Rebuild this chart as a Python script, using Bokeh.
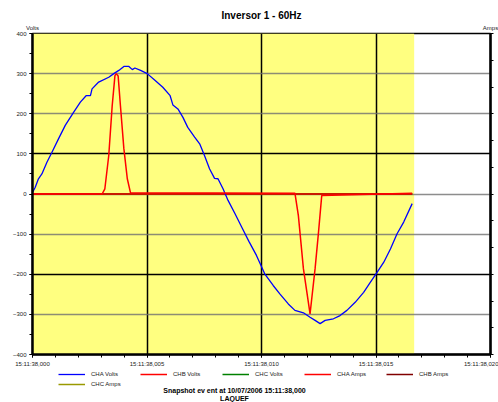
from bokeh.plotting import figure
from bokeh.layouts import column
from bokeh.models import (Range1d, LinearAxis, FixedTicker, BoxAnnotation, Label,
                          Legend, LegendItem, Grid)
from bokeh.embed import file_html
from bokeh.resources import INLINE

# ---------------- data ----------------
title_text = "Inversor 1 - 60Hz"
footer_text = "Snapshot ev ent at 10/07/2006 15:11:38,000"
footer_text2 = "LAQUEF"
unit_left = "Volts"
unit_right = "Amps"

time_ticks = [0, 5, 10, 15, 20]
time_labels = ["15:11:38,000", "15:11:38,005", "15:11:38,010", "15:11:38,015", "15:11:38,020"]
volt_ticks = [-400, -300, -200, -100, 0, 100, 200, 300, 400]
amp_ticks = [-60, -50, -40, -30, -20, -10, 0, 10, 20, 30, 40, 50, 60]
cycle_ms = 1000.0 / 60.0

t_volts = [0, 0.12, 0.26, 0.41, 0.63, 0.85, 1.14, 1.43, 1.80, 2.09, 2.34, 2.53, 2.60, 2.89,
           3.33, 3.55, 3.77, 3.99, 4.21, 4.36, 4.47, 4.72, 5.01, 5.32, 5.69, 6.01, 6.13,
           6.35, 6.57, 6.78, 7.08, 7.30, 7.51, 7.73, 7.95, 8.10, 8.32, 8.54, 8.85, 9.15,
           9.45, 9.78, 10.14, 10.51, 10.80, 11.17, 11.46, 11.83, 12.12, 12.34, 12.56,
           12.78, 13.14, 13.43, 13.73, 14.09, 14.46, 14.75, 15.04, 15.34, 15.63, 15.92,
           16.21, 16.58]
cha_volts = [4, 17, 38, 50, 79, 104, 138, 171, 204, 229, 245, 245, 262, 279,
             291, 300, 308, 318, 318, 310, 314, 308, 300, 285, 266, 245, 222,
             212, 191, 166, 142, 125, 96, 63, 39, 38, 13, -16, -50, -84,
             -118, -153, -199, -228, -249, -274, -290, -296, -307, -315, -323,
             -315, -311, -303, -290, -270, -245, -220, -196, -170, -137, -99,
             -70, -24]

t_amps = [0, 3.04, 3.16, 3.33, 3.48, 3.60, 3.66, 3.74, 3.84, 3.99, 4.14, 4.28,
          11.46, 11.61, 11.83, 12.12, 12.34, 12.49, 12.63, 16.58]
cha_amps = [0, 0, 13, 96, 220, 295, 300, 294, 220, 113, 38, 3,
            2, -54, -186, -299, -186, -95, -4, 2]

t_flat = [0, 16.58]
chb_volts = [0, 0]
chc_volts = [0, 0]
chb_amps = [0, 0]
chc_amps = [0, 0]

series = [  # (label, x, y, colour, width)
    ("CHC Amps", t_flat, chc_amps, "#999900", 1.5),
    ("CHB Amps", t_flat, chb_amps, "#800000", 1.5),
    ("CHC Volts", t_flat, chc_volts, "#008000", 1.5),
    ("CHB Volts", t_flat, chb_volts, "#FF0000", 1.5),
    ("CHA Volts", t_volts, cha_volts, "#0000FF", 1.3),
    ("CHA Amps", t_amps, cha_amps, "#FF0000", 1.5),
]
legend_order = ["CHA Volts", "CHB Volts", "CHC Volts", "CHA Amps", "CHB Amps", "CHC Amps"]

FONT = "Liberation Sans"
TXT = "#222222"

# ---------------- main chart ----------------
p = figure(width=498, height=369, x_range=Range1d(0, 20), y_range=Range1d(-400, 400),
           output_backend="svg", toolbar_location=None,
           min_border_left=32, min_border_right=8, min_border_top=33, min_border_bottom=15,
           title=title_text)
p.extra_y_ranges = {"amps": Range1d(amp_ticks[0], amp_ticks[-1])}

p.title.align = "center"
p.title.text_font = FONT
p.title.text_font_size = "10px"
p.title.text_font_style = "bold"
p.title.text_color = "black"
p.title.standoff = 2

p.background_fill_color = "white"
p.border_fill_color = "white"
p.outline_line_color = "black"
p.outline_line_width = 1.5

# yellow band = one cycle
p.add_layout(BoxAnnotation(left=0, right=cycle_ms, fill_color="#FFFF80", fill_alpha=1.0,
                           line_color=None, level="image"))

# grids
p.xgrid.ticker = FixedTicker(ticks=[5, 10, 15])
p.xgrid.grid_line_color = "black"
p.xgrid.grid_line_width = 1.5
p.ygrid.ticker = FixedTicker(ticks=[-300, -100, 0, 200, 300])
p.ygrid.grid_line_color = "#707070"
p.ygrid.grid_line_alpha = 0.8
p.ygrid.grid_line_width = 1.5
p.add_layout(Grid(dimension=1, ticker=FixedTicker(ticks=[-200, 100]),
                  grid_line_color="black", grid_line_width=1.5))

# axes
xa = p.xaxis[0]
xa.ticker = FixedTicker(ticks=time_ticks, minor_ticks=list(range(0, 21)))
xa.major_label_overrides = {k: v for k, v in zip(time_ticks, time_labels)}
ya = p.yaxis[0]
ya.ticker = FixedTicker(ticks=volt_ticks, minor_ticks=list(range(-400, 401, 50)))

ra = LinearAxis(y_range_name="amps", ticker=FixedTicker(ticks=amp_ticks),
                major_label_overrides={k: "" for k in amp_ticks})
p.add_layout(ra, "right")

for ax in (xa, ya, ra):
    ax.axis_line_color = "black"
    ax.axis_line_width = 2.5
    ax.major_tick_line_color = "black"
    ax.minor_tick_line_color = "black"
    ax.major_tick_in = 0
    ax.major_tick_out = 3
    ax.minor_tick_in = 0
    ax.minor_tick_out = 3
    ax.major_tick_line_width = 1
    ax.minor_tick_line_width = 1
    ax.major_label_text_font = FONT
    ax.major_label_text_font_size = "6px"
    ax.major_label_text_color = TXT
    ax.major_label_standoff = 3
ra.minor_tick_out = 0
ra.major_label_standoff = 0

# unit labels above the two vertical axes
ua = LinearAxis(ticker=FixedTicker(ticks=[0, 20]),
                major_label_overrides={0: unit_left, 20: unit_right},
                axis_line_color=None, major_tick_line_color=None, minor_tick_line_color=None,
                major_tick_out=0, minor_tick_out=0, major_tick_in=0, minor_tick_in=0,
                major_label_text_font=FONT, major_label_text_font_size="6px",
                major_label_text_color=TXT, major_label_standoff=3)
p.add_layout(ua, "above")

for label, xs, ys, col, lw in series:
    p.line(xs, ys, line_color=col, line_width=lw)

# ---------------- legend + footer strip ----------------
q = figure(width=498, height=33, x_range=Range1d(0, 1), y_range=Range1d(0, 1),
           output_backend="svg", toolbar_location=None,
           x_axis_location=None, y_axis_location=None,
           min_border_left=0, min_border_right=0, min_border_top=0, min_border_bottom=0)
q.grid.visible = False
q.outline_line_color = None
q.background_fill_color = "white"
q.border_fill_color = "white"

proxies = {}
for label, xs, ys, col, lw in series:
    proxies[label] = q.line(xs, ys, line_color=col, line_width=lw, visible=False)

legend = Legend(items=[LegendItem(label=lab, renderers=[proxies[lab]]) for lab in legend_order],
                orientation="horizontal", ncols=5, location=(26, 13),
                label_text_font=FONT, label_text_font_size="6px", label_text_color=TXT,
                glyph_width=27, glyph_height=10, label_height=10, label_width=49,
                label_standoff=6, spacing=0, padding=0, margin=0,
                border_line_color=None, background_fill_alpha=0, inactive_fill_alpha=0)
q.add_layout(legend)

q.add_layout(Label(x=202, y=12, x_units="screen", y_units="screen", text=footer_text,
                   text_align="center", text_baseline="middle", text_font=FONT,
                   text_font_size="7px", text_font_style="bold", text_color="black"))
q.add_layout(Label(x=202, y=4, x_units="screen", y_units="screen", text=footer_text2,
                   text_align="center", text_baseline="alphabetic", text_font=FONT,
                   text_font_size="7px", text_font_style="bold", text_color="black"))

layout = column(p, q, spacing=0)
open("out.html", "w").write(file_html(layout, INLINE))
